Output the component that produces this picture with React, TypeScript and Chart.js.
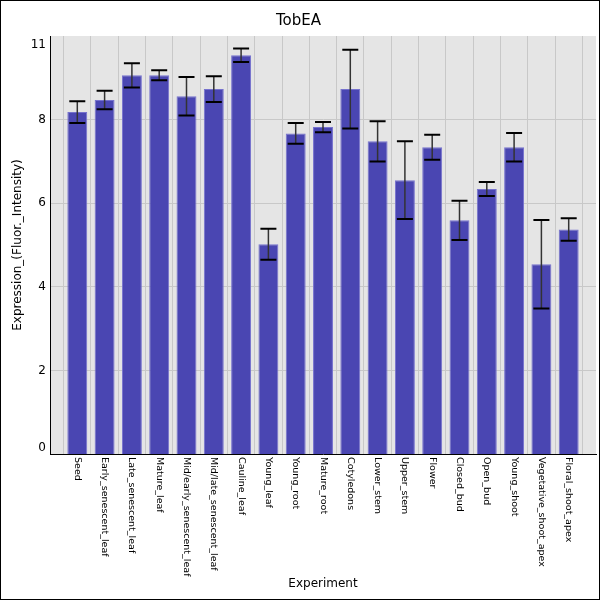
import { useEffect, useRef } from "react";
import { Chart, registerables } from "chart.js";

Chart.register(...registerables);

const categories = [
    "Seed",
    "Early_senescent_leaf",
    "Late_senescent_leaf",
    "Mature_leaf",
    "Mid/early_senescent_leaf",
    "Mid/late_senescent_leaf",
    "Cauline_leaf",
    "Young_leaf",
    "Young_root",
    "Mature_root",
    "Cotyledons",
    "Lower_stem",
    "Upper_stem",
    "Flower",
    "Closed_bud",
    "Open_bud",
    "Young_shoot",
    "Vegetative_shoot_apex",
    "Floral_shoot_apex",
];

const values = [8.18, 8.47, 9.06, 9.06, 8.56, 8.73, 9.54, 5.02, 7.67, 7.82, 8.73, 7.48, 6.55, 7.34, 5.59, 6.34, 7.34, 4.54, 5.37];
const errors = [0.26, 0.22, 0.29, 0.12, 0.46, 0.31, 0.16, 0.37, 0.25, 0.12, 0.94, 0.48, 0.93, 0.30, 0.47, 0.17, 0.34, 1.06, 0.27];

// tick labels on the y axis, and where they sit (the end labels are pulled inside the range)
const yTickLabels = ["0", "2", "4", "6", "8", "11"];
const yTickValues = [0.15, 2, 4, 6, 8, 9.78];

const FONT = "DejaVu Sans";

// pad the category axis by one empty slot on each side
const labels = ["", ...categories, ""];
const barData = [null, ...values, null];

const plotBackground = {
    id: "plotBackground",
    beforeDraw(chart: any) {
        const { ctx, chartArea } = chart;
        ctx.save();
        ctx.fillStyle = "#e5e5e5";
        ctx.fillRect(chartArea.left, chartArea.top, chartArea.right - chartArea.left, chartArea.bottom - chartArea.top);
        ctx.restore();
    },
};

const errorBars = {
    id: "errorBars",
    afterDatasetsDraw(chart: any) {
        const { ctx } = chart;
        const xs = chart.scales.x;
        const ys = chart.scales.y;
        ctx.save();
        values.forEach((v, i) => {
            const x = xs.getPixelForValue(i + 1);
            const top = ys.getPixelForValue(v + errors[i]);
            const bottom = ys.getPixelForValue(v - errors[i]);
            ctx.strokeStyle = "#333";
            ctx.lineWidth = 1.5;
            ctx.beginPath();
            ctx.moveTo(x, top);
            ctx.lineTo(x, bottom);
            ctx.stroke();
            ctx.strokeStyle = "#000";
            ctx.lineWidth = 2;
            ctx.beginPath();
            ctx.moveTo(x - 8, top);
            ctx.lineTo(x + 8, top);
            ctx.moveTo(x - 8, bottom);
            ctx.lineTo(x + 8, bottom);
            ctx.stroke();
        });
        ctx.restore();
    },
};

// x labels read top to bottom, which the built-in rotation cannot do
const downLabels = {
    id: "downLabels",
    afterDraw(chart: any) {
        const { ctx, chartArea } = chart;
        const xs = chart.scales.x;
        ctx.save();
        ctx.font = `9.5px "${FONT}"`;
        ctx.fillStyle = "#000";
        ctx.textAlign = "left";
        ctx.textBaseline = "middle";
        categories.forEach((c, i) => {
            const x = xs.getPixelForValue(i + 1);
            ctx.save();
            ctx.translate(x, chartArea.bottom + 3);
            ctx.rotate(Math.PI / 2);
            ctx.fillText(c, 0, 0);
            ctx.restore();
        });
        ctx.restore();
    },
};

function BarChart() {
    const canvasRef = useRef<HTMLCanvasElement | null>(null);
    const chartInstance = useRef<Chart | null>(null);

    useEffect(() => {
        document.body.style.margin = "0";
        if (chartInstance.current) {
            chartInstance.current.destroy();
        }
        if (!canvasRef.current) return;

        chartInstance.current = new Chart(canvasRef.current, {
            type: "bar",
            data: {
                labels,
                datasets: [
                    {
                        label: "TobEA",
                        data: barData,
                        backgroundColor: "rgb(74,70,178)",
                        borderColor: "rgb(118,114,206)",
                        borderWidth: 1,
                        barPercentage: 0.73,
                        categoryPercentage: 1,
                    },
                ],
            },
            options: {
                animation: false,
                responsive: true,
                maintainAspectRatio: false,
                layout: { padding: { top: 0, left: 0, right: 3, bottom: 0 } },
                plugins: {
                    legend: { display: false },
                    tooltip: { enabled: false },
                    title: {
                        display: true,
                        text: "TobEA",
                        color: "#000",
                        font: { family: FONT, size: 15, weight: "normal" },
                        padding: { top: 11, bottom: 6 },
                    },
                },
                scales: {
                    x: {
                        type: "category",
                        offset: false,
                        afterFit: (scale: any) => {
                            scale.height = 145;
                        },
                        ticks: { display: false },
                        grid: {
                            drawTicks: false,
                            color: (c: any) => (c.index === 0 ? "transparent" : "#c8c8c8"),
                        },
                        border: { display: true, color: "#000", width: 1 },
                        title: {
                            display: true,
                            text: "Experiment",
                            color: "#000",
                            font: { family: FONT, size: 12 },
                            padding: { top: 0, bottom: 8 },
                        },
                    },
                    y: {
                        min: 0,
                        max: 10,
                        afterFit: (scale: any) => {
                            scale.width = 49;
                        },
                        afterBuildTicks: (scale: any) => {
                            scale.ticks = yTickValues.map(v => ({ value: v }));
                        },
                        ticks: {
                            color: "#000",
                            padding: 4,
                            font: { family: FONT, size: 12 },
                            callback: (_v: any, i: number) => yTickLabels[i],
                        },
                        grid: {
                            drawTicks: false,
                            color: (c: any) =>
                                c.index === 0 || c.index === yTickValues.length - 1 ? "transparent" : "#c8c8c8",
                        },
                        border: { display: true, color: "#000", width: 1 },
                        title: {
                            display: true,
                            text: "Expression_(Fluor._Intensity)",
                            color: "#000",
                            font: { family: FONT, size: 12 },
                            padding: { top: 10, bottom: 0 },
                        },
                    },
                },
            },
            plugins: [plotBackground, errorBars, downLabels],
        });

        return () => {
            if (chartInstance.current) {
                chartInstance.current.destroy();
                chartInstance.current = null;
            }
        };
    }, []);

    return (
        <div style={{ width: 598, height: 598, border: "1px solid #000", position: "relative" }}>
            <canvas ref={canvasRef} />
        </div>
    );
}

export default function App() {
    return <BarChart />;
}
